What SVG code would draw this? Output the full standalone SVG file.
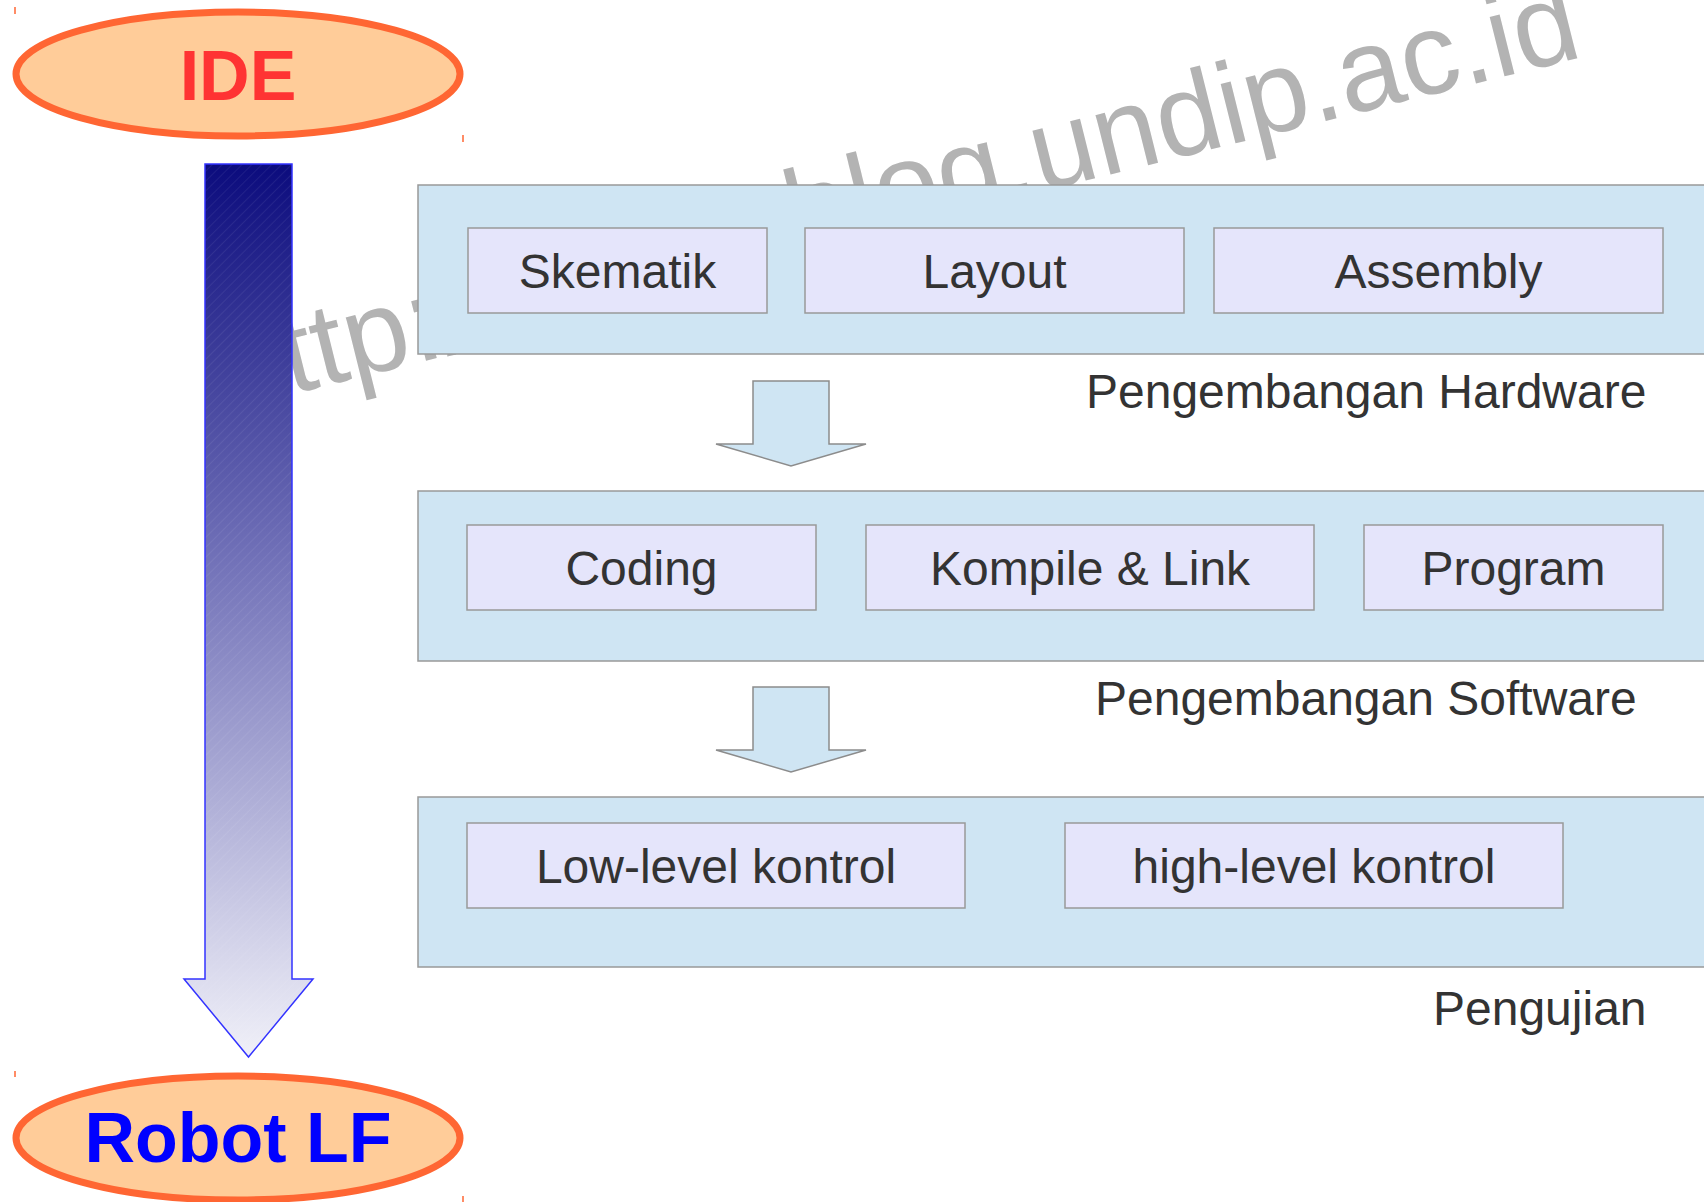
<svg xmlns="http://www.w3.org/2000/svg" width="1704" height="1202" viewBox="0 0 1704 1202">
<style>
.panel{fill:#cfe5f3;stroke:#999999;stroke-width:1.5}
.box{fill:#e5e5fb;stroke:#999999;stroke-width:1.5}
.bt{font-family:"Liberation Sans",Arial,sans-serif;font-size:48px;fill:#333333;text-anchor:middle}
.lbl{font-family:"Liberation Sans",Arial,sans-serif;font-size:48px;fill:#333333}
.ell{fill:#ffcc99;stroke:#ff6633;stroke-width:7}
.et{font-family:"Liberation Sans",Arial,sans-serif;font-size:70px;font-weight:bold;text-anchor:middle}
.sarrow{fill:#cfe5f3;stroke:#8c8c8c;stroke-width:1.5}
.tick{stroke:#ff6633;stroke-width:1.5}
.wm{font-family:"Liberation Sans",Arial,sans-serif;font-size:116px;fill:#b3b3b3}
</style>
<defs>
<linearGradient id="bigGrad" x1="0" y1="0" x2="0" y2="1">
<stop offset="0" stop-color="#0b0b7d"/>
<stop offset="0.45" stop-color="#7373b9"/>
<stop offset="1" stop-color="#f0f0f8"/>
</linearGradient>
<pattern id="hatch" width="7" height="7" patternUnits="userSpaceOnUse" patternTransform="rotate(45)">
<line x1="0" y1="0" x2="0" y2="7" stroke="#ffffff" stroke-opacity="0.13" stroke-width="1"/>
</pattern>
</defs>

<text class="wm" x="228" y="410" transform="rotate(-14 228 410)">http://<tspan dx="299" dy="-15">blog.undip.ac.id</tspan></text>

<g id="ide">
<ellipse class="ell" cx="238" cy="74" rx="222" ry="62"/>
<text class="et" x="238" y="100" fill="#ff3333">IDE</text>
<line class="tick" x1="15" y1="7" x2="15" y2="14"/>
<line class="tick" x1="463" y1="135" x2="463" y2="142"/>
</g>

<g id="robot">
<ellipse class="ell" cx="238" cy="1138" rx="222" ry="62"/>
<text class="et" x="238" y="1162" fill="#0000ff">Robot LF</text>
<line class="tick" x1="15" y1="1071" x2="15" y2="1077"/>
<line class="tick" x1="463" y1="1196" x2="463" y2="1202"/>
</g>

<g id="connectors">
<g id="bigArrow">
<path d="M205,164 L292,164 L292,979 L313,979 L248.5,1057 L184,979 L205,979 Z" fill="url(#bigGrad)"/>
<path d="M205,164 L292,164 L292,979 L313,979 L248.5,1057 L184,979 L205,979 Z" fill="url(#hatch)" stroke="#3333ff" stroke-width="1.5"/>
</g>
<path class="sarrow" d="M753,381 L829,381 L829,444 L866,444 L791,466 L716,444 L753,444 Z"/>
<path class="sarrow" d="M753,687 L829,687 L829,750 L866,750 L791,772 L716,750 L753,750 Z"/>
</g>

<g id="hardware">
<rect class="panel" x="418" y="185" width="1300" height="169"/>
<g id="skematik"><rect class="box" x="468" y="228" width="299" height="85"/><text class="bt" x="617.5" y="288">Skematik</text></g>
<g id="layout"><rect class="box" x="805" y="228" width="379" height="85"/><text class="bt" x="994.5" y="288">Layout</text></g>
<g id="assembly"><rect class="box" x="1214" y="228" width="449" height="85"/><text class="bt" x="1438.5" y="288">Assembly</text></g>
<text class="lbl" x="1086" y="408">Pengembangan Hardware</text>
</g>

<g id="software">
<rect class="panel" x="418" y="491" width="1300" height="170"/>
<g id="coding"><rect class="box" x="467" y="525" width="349" height="85"/><text class="bt" x="641.5" y="585">Coding</text></g>
<g id="kompile"><rect class="box" x="866" y="525" width="448" height="85"/><text class="bt" x="1090" y="585">Kompile &amp; Link</text></g>
<g id="program"><rect class="box" x="1364" y="525" width="299" height="85"/><text class="bt" x="1513.5" y="585">Program</text></g>
<text class="lbl" x="1095" y="715">Pengembangan Software</text>
</g>

<g id="pengujian">
<rect class="panel" x="418" y="797" width="1300" height="170"/>
<g id="lowlevel"><rect class="box" x="467" y="823" width="498" height="85"/><text class="bt" x="716" y="883">Low-level kontrol</text></g>
<g id="highlevel"><rect class="box" x="1065" y="823" width="498" height="85"/><text class="bt" x="1314" y="883">high-level kontrol</text></g>
<text class="lbl" x="1433" y="1025">Pengujian</text>
</g>
</svg>
